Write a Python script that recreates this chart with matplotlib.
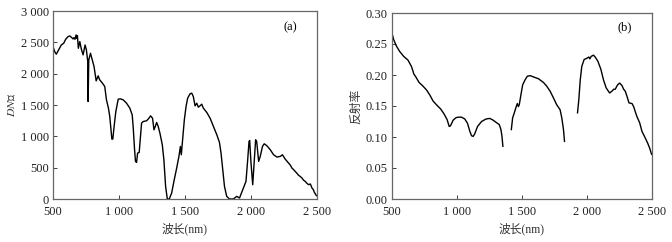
import matplotlib
matplotlib.use("Agg")
import matplotlib.pyplot as plt
from matplotlib.ticker import FuncFormatter

plt.rcParams['font.family'] = ['Liberation Serif', 'Noto Sans CJK SC']
plt.rcParams['mathtext.fontset'] = 'stix'

# (a) DN values
wl_a = [500, 513, 525, 546, 563, 581, 596, 614, 627, 642, 652, 659, 667, 675, 680, 685, 692, 703,
        715, 728, 743, 753, 763, 766, 771, 784, 796, 811, 827, 842, 854, 875, 892, 905, 920, 930,
        938, 946, 953, 963, 976, 994, 1011, 1032, 1057, 1082, 1100, 1108, 1118, 1125, 1133, 1141,
        1153, 1161, 1171, 1184, 1209, 1227, 1239, 1254, 1265, 1275, 1285, 1297, 1310, 1328, 1340,
        1353, 1366, 1381, 1399, 1416, 1437, 1454, 1465, 1472, 1482, 1495, 1508, 1520, 1538, 1551,
        1563, 1576, 1589, 1601, 1614, 1627, 1639, 1665, 1690, 1715, 1741, 1761, 1773, 1786, 1799,
        1816, 1837, 1867, 1892, 1913, 1938, 1962, 1975, 1985, 1990, 2000, 2013, 2025, 2035, 2043,
        2058, 2070, 2087, 2100, 2120, 2146, 2171, 2197, 2222, 2238, 2259, 2285, 2298, 2310, 2322,
        2335, 2348, 2361, 2373, 2386, 2398, 2411, 2424, 2437, 2450, 2462, 2472, 2480, 2488, 2495]
dn_a = [2432, 2352, 2310, 2390, 2458, 2485, 2549, 2591, 2602, 2575, 2554, 2575, 2549, 2618, 2565,
        2607, 2405, 2512, 2390, 2300, 2458, 2379, 2200, 1556, 2220, 2326, 2230, 2113, 1885, 1965,
        1901, 1848, 1795, 1582, 1450, 1317, 1131, 956, 956, 1158, 1396, 1593, 1598, 1582, 1529,
        1450, 1343, 1131, 786, 600, 584, 733, 743, 945, 1211, 1237, 1248, 1290, 1327, 1290, 1104,
        1158, 1221, 1158, 1051, 866, 627, 202, 0, 0, 96, 281, 494, 680, 839, 706, 945, 1264, 1476,
        1609, 1678, 1689, 1635, 1487, 1529, 1466, 1487, 1513, 1450, 1381, 1290, 1158, 1025, 903,
        733, 467, 202, 42, 0, 0, 42, 16, 149, 281, 627, 919, 934, 573, 228, 627, 945, 919, 600,
        680, 839, 881, 850, 786, 706, 669, 680, 706, 637, 573, 540, 494, 470, 441, 410, 377, 360,
        335, 300, 281, 250, 228, 240, 175, 150, 106, 80, 53]

# (b) reflectance, three segments
wl_b1 = [500, 513, 533, 559, 590, 623, 649, 662, 667, 683, 708, 734, 765, 790, 816, 842, 875, 901,
         924, 940, 950, 970, 991, 1009, 1035, 1060, 1081, 1099, 1112, 1125, 1138, 1158, 1189, 1223,
         1253, 1279, 1305, 1325, 1338, 1346, 1353]
rf_b1 = [0.267, 0.257, 0.247, 0.238, 0.230, 0.224, 0.214, 0.206, 0.202, 0.197, 0.188, 0.183, 0.176,
         0.168, 0.158, 0.152, 0.145, 0.137, 0.128, 0.117, 0.118, 0.127, 0.131, 0.132, 0.132, 0.129,
         0.122, 0.109, 0.102, 0.101, 0.106, 0.117, 0.125, 0.129, 0.130, 0.127, 0.123, 0.120, 0.112,
         0.101, 0.085]
wl_b2 = [1418, 1428, 1441, 1454, 1464, 1472, 1479, 1490, 1505, 1523, 1541, 1562, 1587, 1626, 1665,
         1690, 1716, 1742, 1767, 1793, 1806, 1819, 1827]
rf_b2 = [0.112, 0.131, 0.139, 0.148, 0.154, 0.149, 0.152, 0.166, 0.184, 0.192, 0.198, 0.199, 0.197,
         0.194, 0.188, 0.182, 0.174, 0.163, 0.152, 0.144, 0.131, 0.112, 0.093]
wl_b3 = [1927, 1937, 1948, 1960, 1978, 1999, 2014, 2022, 2032, 2050, 2063, 2084, 2107, 2127, 2148,
         2174, 2192, 2205, 2217, 2235, 2251, 2269, 2282, 2294, 2307, 2323, 2346, 2359, 2371, 2384,
         2405, 2423, 2449, 2467, 2482, 2497]
rf_b3 = [0.139, 0.160, 0.192, 0.214, 0.225, 0.227, 0.229, 0.226, 0.230, 0.232, 0.229, 0.222, 0.209,
         0.192, 0.179, 0.171, 0.174, 0.177, 0.177, 0.184, 0.187, 0.183, 0.177, 0.174, 0.166, 0.155,
         0.154, 0.149, 0.141, 0.133, 0.123, 0.109, 0.098, 0.090, 0.082, 0.072]

x_ticks = [500, 1000, 1500, 2000, 2500]
ya_ticks = [0, 500, 1000, 1500, 2000, 2500, 3000]
yb_ticks = [0.00, 0.05, 0.10, 0.15, 0.20, 0.25, 0.30]

def thousands(v, pos=None):
    v = int(round(v))
    if v >= 1000:
        return f"{v // 1000} {v % 1000:03d}"
    return str(v)

fig = plt.figure(figsize=(6.72, 2.42), dpi=100)
axa = fig.add_axes([53/672, 1-199/242, 264/672, 188/242])
axb = fig.add_axes([392/672, 1-199/242, 260/672, 186/242])

line_kw = dict(color='black', lw=1.0)
axa.plot(wl_a, dn_a, **line_kw)
axb.plot(wl_b1, rf_b1, **line_kw)
axb.plot(wl_b2, rf_b2, **line_kw)
axb.plot(wl_b3, rf_b3, **line_kw)

for ax in (axa, axb):
    ax.set_xlim(500, 2500)
    ax.set_xticks(x_ticks)
    ax.xaxis.set_major_formatter(FuncFormatter(thousands))
    ax.tick_params(direction='in', length=3, width=0.6, labelsize=9, colors='#222222')
    ax.tick_params(axis='x', pad=5)
    ax.tick_params(axis='y', pad=3)
    for s in ax.spines.values():
        s.set_color('#666666')
        s.set_linewidth(0.9)
    ax.set_xlabel('波长(nm)', fontsize=8.5, color='#333333', labelpad=3)

axa.set_ylim(0, 3000)
axa.set_yticks(ya_ticks)
axa.yaxis.set_major_formatter(FuncFormatter(thousands))
axa.set_ylabel('$DN$值', fontsize=8.5, color='#333333', labelpad=2)
axa.text(0.898, 0.915, '(a)', transform=axa.transAxes, ha='center', va='center', fontsize=9)

axb.set_ylim(0, 0.30)
axb.set_yticks(yb_ticks)
axb.yaxis.set_major_formatter(FuncFormatter(lambda v, p: f"{v:.2f}"))
axb.set_ylabel('反射率', fontsize=8.5, color='#333333', labelpad=3)
axb.text(0.896, 0.925, '(b)', transform=axb.transAxes, ha='center', va='center', fontsize=9)

fig.savefig('out.png', dpi=100)
